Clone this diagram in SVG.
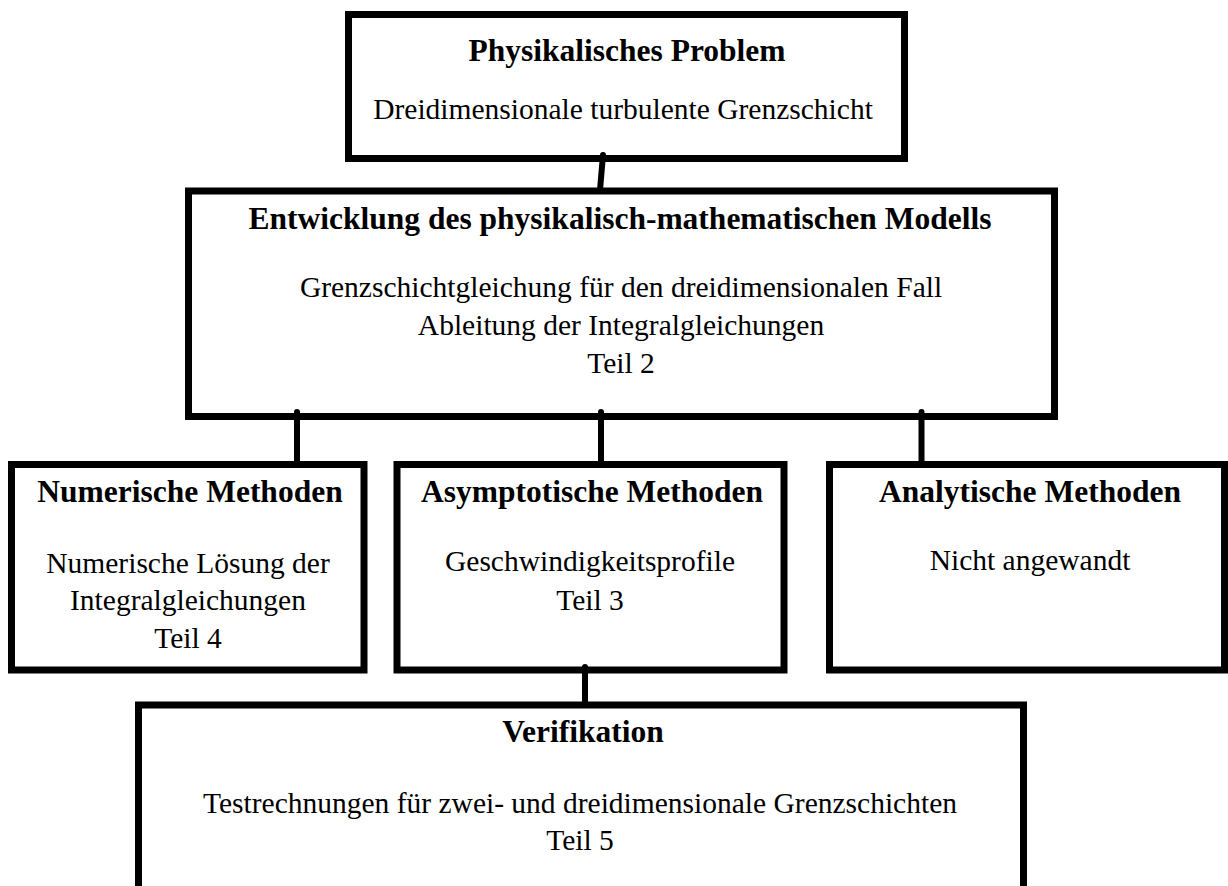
<svg xmlns="http://www.w3.org/2000/svg" width="1228" height="886" viewBox="0 0 1228 886">
<style>
.box{fill:#fff;stroke:#000;stroke-width:7}
.c{fill:none;stroke:#000;stroke-width:6;stroke-linecap:round}
text{font-family:"Liberation Serif","Times New Roman",serif;fill:#000;text-anchor:middle}
.t{font-weight:bold;font-size:31.5px}
.n{font-size:29.5px}
</style>
<rect x="0" y="0" width="1228" height="886" fill="#fff"/>
<g id="n-physik">
<rect class="box" x="348.5" y="14.5" width="556" height="144"/>
<text class="t" x="627" y="61">Physikalisches Problem</text>
<text class="n" x="623" y="119">Dreidimensionale turbulente Grenzschicht</text>
</g>
<g id="n-modell">
<rect class="box" x="188.5" y="191" width="866" height="225.5"/>
<text class="t" x="620" y="229">Entwicklung des physikalisch-mathematischen Modells</text>
<text class="n" x="621" y="297">Grenzschichtgleichung für den dreidimensionalen Fall</text>
<text class="n" x="621" y="335">Ableitung der Integralgleichungen</text>
<text class="n" x="621" y="373">Teil 2</text>
</g>
<g id="n-numerisch">
<rect class="box" x="11.5" y="464.5" width="352.5" height="205.5"/>
<text class="t" x="190" y="502">Numerische Methoden</text>
<text class="n" x="188" y="573">Numerische Lösung der</text>
<text class="n" x="188" y="610">Integralgleichungen</text>
<text class="n" x="188" y="648">Teil 4</text>
</g>
<g id="n-asympt">
<rect class="box" x="397" y="464.5" width="387" height="205.5"/>
<text class="t" x="592" y="502">Asymptotische Methoden</text>
<text class="n" x="590" y="571">Geschwindigkeitsprofile</text>
<text class="n" x="590" y="610">Teil 3</text>
</g>
<g id="n-analyt">
<rect class="box" x="829.5" y="464.5" width="395" height="205.5"/>
<text class="t" x="1030" y="502">Analytische Methoden</text>
<text class="n" x="1030" y="570">Nicht angewandt</text>
</g>
<g id="n-verif">
<rect class="box" x="138.5" y="705" width="885" height="220"/>
<text class="t" x="583" y="742">Verifikation</text>
<text class="n" x="580" y="813">Testrechnungen für zwei- und dreidimensionale Grenzschichten</text>
<text class="n" x="580" y="850">Teil 5</text>
</g>
<g id="connectors">
<line class="c" x1="603" y1="155" x2="600" y2="190"/>
<line class="c" x1="297" y1="412" x2="297" y2="464"/>
<line class="c" x1="601" y1="412" x2="601" y2="464"/>
<line class="c" x1="921.5" y1="412" x2="921.5" y2="464"/>
<line class="c" x1="585" y1="667" x2="585" y2="705"/>
</g>
</svg>
